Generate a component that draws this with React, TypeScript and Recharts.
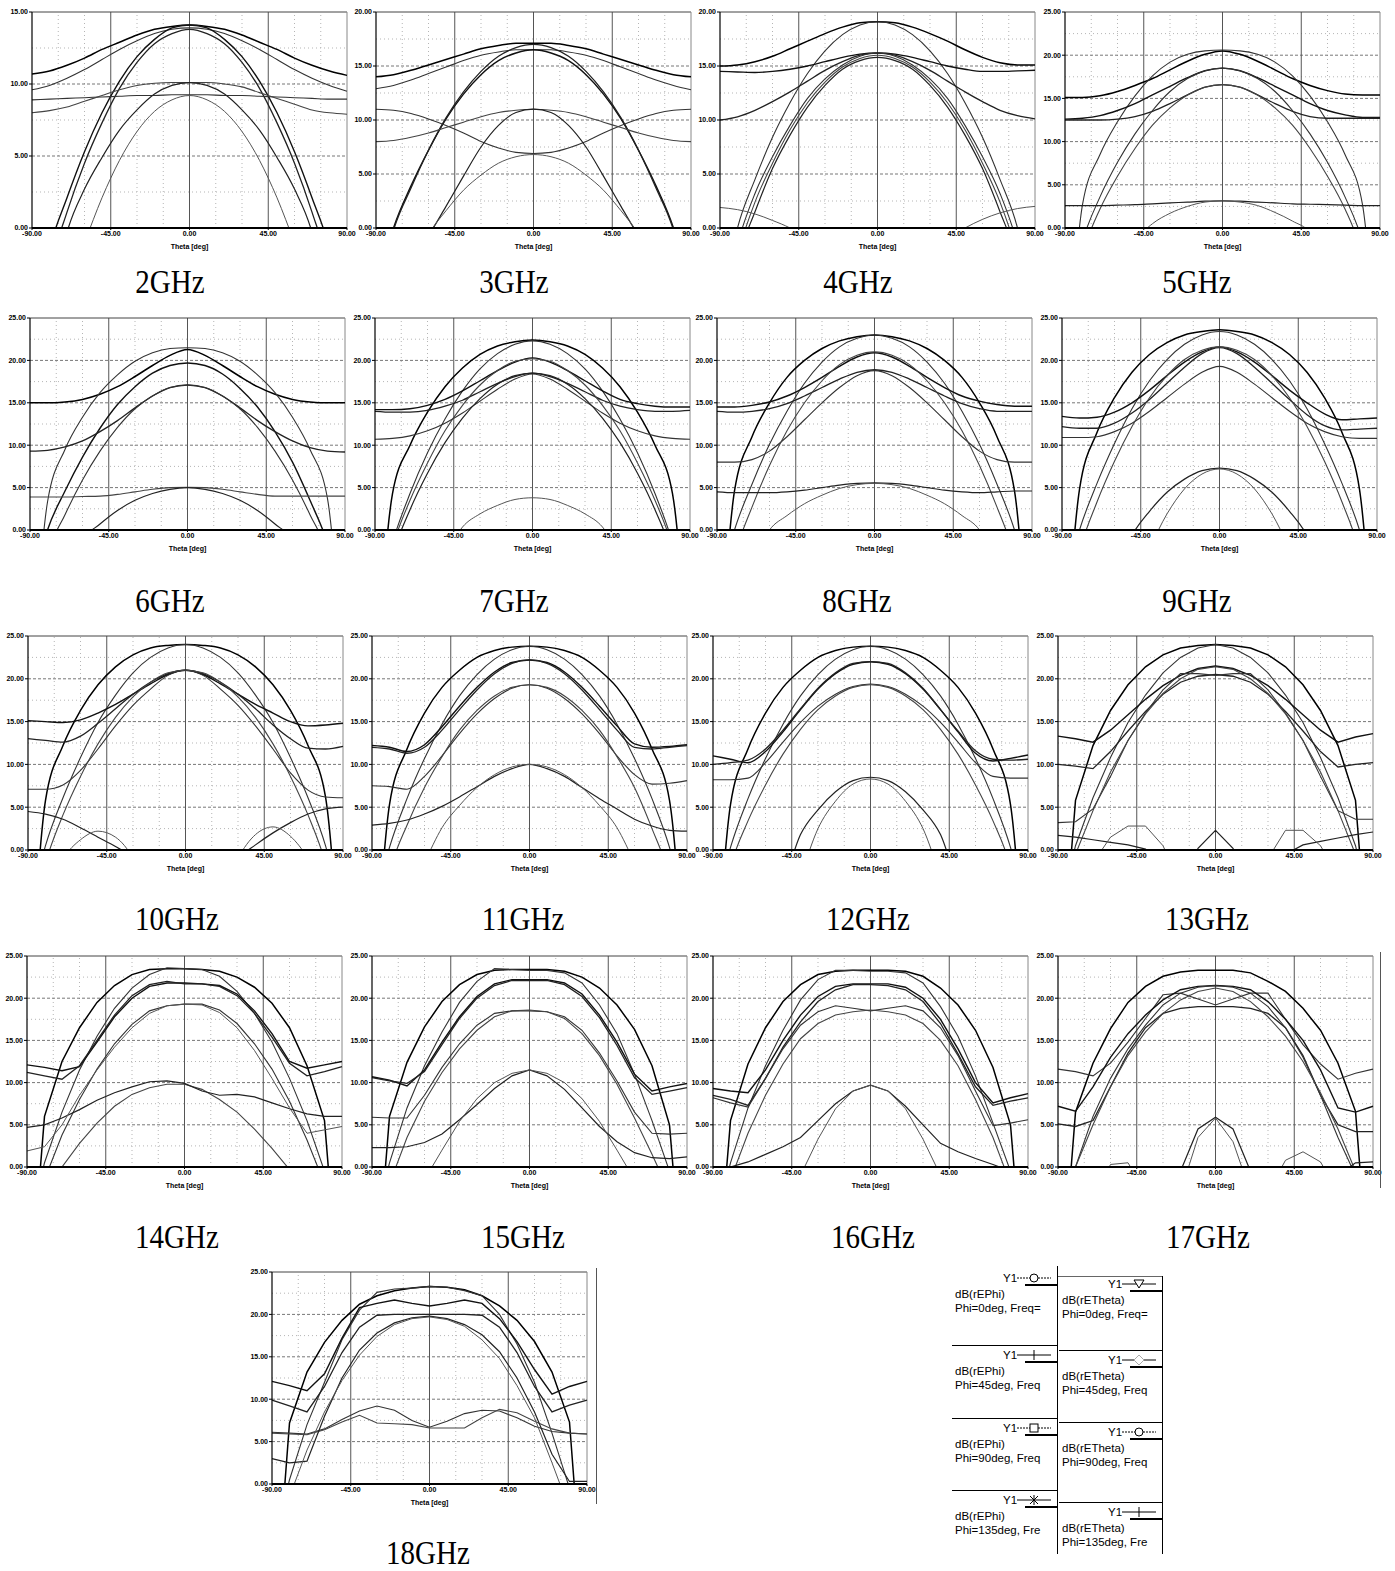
import React from 'react'
import { LineChart, Line, XAxis, YAxis, ReferenceLine, Label } from 'recharts'

// theta samples, deg
const theta = [-90, -80, -70, -60, -50, -40, -30, -20, -10, 0, 10, 20, 30, 40, 50, 60, 70, 80, 90]

const freqLabels = ['2GHz', '3GHz', '4GHz', '5GHz', '6GHz', '7GHz', '8GHz', '9GHz', '10GHz', '11GHz', '12GHz', '13GHz', '14GHz', '15GHz', '16GHz', '17GHz', '18GHz']
const yMax = [15, 20, 20, 25, 25, 25, 25, 25, 25, 25, 25, 25, 25, 25, 25, 25, 25]
const xTicks = [-90, -45, 0, 45, 90]

// gain in dB, 8 curves per frequency (values below 0 are clipped by the axis)
const g2 = [
  [10.7, 10.9, 11.3, 11.8, 12.4, 12.9, 13.4, 13.8, 14.0, 14.1, 14.0, 13.8, 13.4, 12.9, 12.4, 11.8, 11.3, 10.9, 10.6],
  [9.6, 9.9, 10.4, 11.0, 11.7, 12.4, 13.0, 13.5, 13.8, 13.9, 13.8, 13.5, 13.0, 12.4, 11.7, 11.0, 10.4, 9.9, 9.5],
  [-8, -1.5, 2.1, 5.3, 8.0, 10.2, 11.9, 13.1, 13.9, 14.1, 13.9, 13.1, 11.9, 10.2, 8.0, 5.3, 2.1, -1.5, -8],
  [-10, -3, 1.1, 4.5, 7.3, 9.7, 11.5, 12.8, 13.5, 13.8, 13.5, 12.8, 11.5, 9.7, 7.3, 4.5, 1.1, -3, -10],
  [8.9, 8.95, 9.0, 9.05, 9.1, 9.15, 9.2, 9.2, 9.25, 9.25, 9.25, 9.2, 9.2, 9.15, 9.1, 9.05, 9.0, 8.95, 8.95],
  [8.0, 8.15, 8.4, 8.8, 9.2, 9.6, 9.9, 10.05, 10.1, 10.1, 10.1, 10.0, 9.8, 9.4, 9.0, 8.6, 8.2, 8.0, 7.9],
  [-12, -6, -0.3, 2.7, 4.9, 6.8, 8.2, 9.3, 9.9, 10.1, 9.9, 9.3, 8.2, 6.8, 4.9, 2.7, -0.3, -6, -12],
  [-15, -9, -4, -1, 2.1, 4.7, 6.7, 8.1, 8.9, 9.2, 8.9, 8.1, 6.7, 4.7, 2.1, -1, -4, -9, -15],
]
const g3 = [
  [14.0, 14.2, 14.6, 15.1, 15.6, 16.1, 16.6, 16.9, 17.1, 17.1, 17.1, 16.9, 16.6, 16.1, 15.6, 15.1, 14.6, 14.2, 14.0],
  [12.9, 13.2, 13.7, 14.3, 14.9, 15.5, 16.0, 16.3, 16.5, 16.5, 16.5, 16.3, 16.0, 15.5, 14.9, 14.3, 13.7, 13.2, 12.8],
  [-6, 0, 3.9, 7.2, 10.1, 12.4, 14.2, 15.5, 16.2, 16.5, 16.2, 15.5, 14.2, 12.4, 10.1, 7.2, 3.9, 0, -6],
  [-7, -0.2, 3.7, 7.2, 10.2, 12.6, 14.5, 15.9, 16.7, 17.0, 16.7, 15.9, 14.5, 12.6, 10.2, 7.2, 3.7, -0.2, -7],
  [11.0, 10.9, 10.6, 10.1, 9.5, 8.8, 8.0, 7.4, 7.0, 6.9, 7.0, 7.4, 8.0, 8.8, 9.5, 10.1, 10.6, 10.9, 11.0],
  [8.0, 8.1, 8.4, 8.8, 9.3, 9.8, 10.3, 10.7, 10.9, 11.0, 10.9, 10.7, 10.3, 9.8, 9.3, 8.8, 8.4, 8.1, 8.0],
  [-14, -8, -4, -0.8, 2.0, 4.8, 7.5, 9.5, 10.7, 11.0, 10.7, 9.5, 7.5, 4.8, 2.0, -0.8, -4, -8, -14],
  [-10, -6, -3, -0.5, 1.6, 3.5, 4.9, 6.0, 6.6, 6.8, 6.6, 6.0, 4.9, 3.5, 1.6, -0.5, -3, -6, -10],
]
const g4 = [
  [15.0, 15.1, 15.4, 15.9, 16.6, 17.3, 18.0, 18.6, 19.0, 19.1, 19.0, 18.6, 18.0, 17.3, 16.5, 15.8, 15.3, 15.1, 15.1],
  [-8, 0, 4.5, 8.4, 11.6, 14.3, 16.4, 17.9, 18.8, 19.1, 18.8, 17.9, 16.4, 14.3, 11.6, 8.4, 4.5, 0, -8],
  [14.5, 14.45, 14.4, 14.5, 14.7, 15.0, 15.4, 15.8, 16.1, 16.2, 16.1, 15.8, 15.4, 15.0, 14.7, 14.5, 14.5, 14.55, 14.6],
  [10.0, 10.3, 10.9, 11.7, 12.6, 13.6, 14.6, 15.4, 16.0, 16.2, 16.0, 15.4, 14.6, 13.6, 12.6, 11.7, 10.9, 10.4, 10.1],
  [-9, -1.5, 3.2, 6.6, 9.5, 12.0, 13.8, 15.1, 15.9, 16.2, 15.9, 15.1, 13.8, 12.0, 9.5, 6.6, 3.2, -1.5, -9],
  [-10, -2.5, 2.4, 6.0, 9.1, 11.6, 13.5, 14.9, 15.7, 16.0, 15.7, 14.9, 13.5, 11.6, 9.1, 6.0, 2.4, -2.5, -10],
  [-11, -3, 1.5, 5.5, 8.6, 11.2, 13.2, 14.7, 15.5, 15.8, 15.5, 14.7, 13.2, 11.2, 8.6, 5.5, 1.5, -3, -11],
  [1.9, 1.7, 1.3, 0.7, 0.0, -1, -3, -5, -6, -6.5, -6, -5, -3, -1, 0.0, 0.8, 1.4, 1.8, 2.0],
]
const g5 = [
  [15.1, 15.1, 15.3, 15.8, 16.5, 17.3, 18.3, 19.3, 20.1, 20.5, 20.1, 19.3, 18.3, 17.3, 16.5, 15.9, 15.5, 15.4, 15.4],
  [-20, 2.7, 8.5, 12.3, 15.3, 17.6, 19.2, 20.1, 20.5, 20.6, 20.5, 20.1, 19.2, 17.6, 15.3, 12.3, 8.5, 2.7, -20],
  [12.6, 12.7, 13.0, 13.6, 14.4, 15.4, 16.4, 17.4, 18.2, 18.5, 18.2, 17.4, 16.4, 15.4, 14.4, 13.6, 13.1, 12.8, 12.8],
  [12.5, 12.5, 12.5, 12.6, 12.9, 13.5, 14.4, 15.4, 16.3, 16.6, 16.3, 15.4, 14.4, 13.5, 12.9, 12.7, 12.7, 12.7, 12.7],
  [-10, -1.5, 3.6, 7.6, 10.9, 13.6, 15.8, 17.3, 18.2, 18.5, 18.2, 17.3, 15.8, 13.6, 10.9, 7.6, 3.6, -1.5, -10],
  [-12, -3, 2.2, 6.0, 9.2, 11.9, 13.9, 15.4, 16.3, 16.6, 16.3, 15.4, 13.9, 11.9, 9.2, 6.0, 2.2, -3, -12],
  [2.6, 2.6, 2.6, 2.65, 2.7, 2.8, 2.9, 3.0, 3.1, 3.15, 3.1, 3.0, 2.9, 2.8, 2.75, 2.7, 2.65, 2.6, 2.6],
  [-15, -12, -9, -5, -1.5, 0.5, 1.7, 2.5, 3.0, 3.15, 3.0, 2.6, 1.8, 0.8, -0.5, -4, -8, -12, -15],
]
const g6 = [
  [15.0, 15.0, 15.1, 15.4, 16.0, 16.9, 18.1, 19.4, 20.6, 21.3, 20.6, 19.4, 18.1, 16.9, 16.0, 15.4, 15.1, 15.0, 15.0],
  [-20, 3.3, 9.5, 13.3, 16.2, 18.3, 19.9, 20.9, 21.4, 21.5, 21.4, 20.9, 19.9, 18.3, 16.2, 13.3, 9.5, 3.7, -20],
  [-8, 0, 4.6, 8.6, 12.0, 14.8, 16.9, 18.5, 19.4, 19.7, 19.4, 18.4, 16.7, 14.5, 11.6, 8.0, 3.5, -1.5, -9],
  [9.3, 9.4, 9.8, 10.5, 11.6, 12.9, 14.4, 15.8, 16.8, 17.1, 16.8, 15.8, 14.4, 12.9, 11.6, 10.5, 9.7, 9.3, 9.2],
  [-14, -3, 1.8, 5.9, 9.3, 12.1, 14.3, 15.8, 16.8, 17.1, 16.8, 15.8, 14.3, 12.1, 9.3, 5.9, 1.8, -3, -14],
  [3.9, 3.9, 3.9, 3.95, 4.0, 4.2, 4.5, 4.8, 5.0, 5.05, 5.0, 4.8, 4.5, 4.2, 4.0, 4.0, 4.0, 4.0, 4.0],
  [-15, -10, -6, -1.2, 0.7, 2.3, 3.5, 4.3, 4.8, 5.0, 4.8, 4.3, 3.5, 2.3, 0.7, -1.2, -6, -10, -15],
  [-2.5, -2.2, -1.8, -1.5, -1.2, -0.9, -0.6, -0.4, -0.2, -0.1, -0.2, -0.4, -0.6, -0.9, -1.2, -1.5, -1.8, -2.2, -2.5],
]
const g7 = [
  [-20, 4.3, 10.0, 13.9, 16.9, 19.1, 20.7, 21.7, 22.2, 22.4, 22.2, 21.7, 20.7, 19.1, 16.9, 13.9, 10.0, 4.3, -20],
  [-10, -1.5, 4.3, 9.1, 13.1, 16.4, 19.0, 20.8, 21.9, 22.3, 21.9, 20.8, 19.0, 16.4, 13.1, 9.1, 4.3, -1.5, -10],
  [14.2, 14.2, 14.3, 14.7, 15.4, 16.4, 17.6, 18.8, 19.8, 20.3, 19.8, 18.8, 17.6, 16.4, 15.4, 14.9, 14.6, 14.5, 14.5],
  [14.0, 13.9, 13.9, 14.1, 14.6, 15.3, 16.3, 17.3, 18.1, 18.5, 18.1, 17.3, 16.3, 15.3, 14.6, 14.2, 14.0, 14.0, 14.1],
  [10.7, 10.8, 11.1, 11.7, 12.6, 13.8, 15.2, 16.6, 17.8, 18.4, 17.8, 16.6, 15.2, 13.8, 12.6, 11.7, 11.1, 10.8, 10.7],
  [-11, -2, 3.5, 7.9, 11.7, 14.7, 17.1, 18.8, 19.9, 20.2, 19.9, 18.8, 17.1, 14.7, 11.7, 7.9, 3.5, -2, -11],
  [-12, -3, 2.4, 6.7, 10.3, 13.2, 15.5, 17.2, 18.2, 18.5, 18.2, 17.2, 15.5, 13.2, 10.3, 6.7, 2.4, -3, -12],
  [-15, -12, -9, -6, -3, 0.35, 1.9, 2.9, 3.6, 3.8, 3.6, 2.9, 1.9, 0.35, -3, -6, -9, -12, -15],
]
const g8 = [
  [-20, 4.6, 11.0, 15.0, 18.0, 20.0, 21.4, 22.3, 22.8, 23.0, 22.8, 22.3, 21.4, 20.0, 18.0, 15.0, 11.0, 4.6, -20],
  [-8, 0, 5.4, 10.1, 14.0, 17.3, 19.8, 21.6, 22.6, 23.0, 22.6, 21.6, 19.8, 17.3, 14.0, 10.1, 5.4, 0, -8],
  [14.5, 14.5, 14.7, 15.1, 15.8, 16.8, 18.0, 19.3, 20.4, 20.9, 20.4, 19.3, 18.0, 16.8, 15.8, 15.2, 14.8, 14.6, 14.6],
  [14.0, 13.9, 14.0, 14.3, 14.9, 15.8, 16.8, 17.8, 18.6, 18.9, 18.6, 17.8, 16.8, 15.8, 14.9, 14.3, 14.0, 14.0, 14.0],
  [8.0, 8.0, 8.3, 9.3, 11.0, 13.0, 15.0, 16.8, 18.2, 18.8, 18.2, 16.8, 15.0, 13.0, 11.0, 9.3, 8.3, 8.0, 8.0],
  [-12, -3, 2.7, 7.6, 11.7, 15.0, 17.6, 19.5, 20.6, 21.0, 20.6, 19.5, 17.6, 15.0, 11.7, 7.6, 2.7, -3, -12],
  [4.5, 4.4, 4.4, 4.4, 4.5, 4.7, 5.0, 5.3, 5.5, 5.55, 5.5, 5.3, 5.0, 4.7, 4.5, 4.4, 4.5, 4.6, 4.6],
  [-12, -8, -4, 0, 1.7, 3.1, 4.1, 4.9, 5.35, 5.5, 5.35, 4.9, 4.1, 3.1, 1.7, 0, -4, -8, -12],
]
const g9 = [
  [-20, 4.8, 11.5, 15.6, 18.6, 20.7, 22.1, 23.0, 23.4, 23.6, 23.4, 23.0, 22.1, 20.7, 18.6, 15.6, 11.5, 4.8, -20],
  [-8, 0, 5.5, 10.2, 14.3, 17.6, 20.1, 21.9, 23.0, 23.4, 23.0, 21.9, 20.1, 17.6, 14.3, 10.2, 5.5, 0, -8],
  [13.4, 13.2, 13.3, 13.9, 15.0, 16.5, 18.2, 19.8, 21.0, 21.6, 21.0, 19.8, 18.2, 16.5, 15.0, 13.7, 13.0, 13.1, 13.2],
  [12.2, 12.0, 12.0, 12.6, 13.8, 15.4, 17.3, 19.2, 20.8, 21.5, 20.8, 19.2, 17.3, 15.4, 13.6, 12.3, 11.8, 11.9, 12.0],
  [10.9, 10.9, 11.0, 11.6, 12.6, 14.0, 15.6, 17.2, 18.6, 19.3, 18.6, 17.2, 15.6, 14.0, 12.6, 11.6, 11.0, 10.8, 10.8],
  [-12, -2.5, 3.3, 8.1, 12.2, 15.6, 18.2, 20.1, 21.2, 21.6, 21.2, 20.1, 18.2, 15.6, 12.2, 8.1, 3.3, -2.5, -12],
  [-20, -15, -10, -5, -0.6, 2.2, 4.45, 6.0, 7.0, 7.3, 7.0, 6.0, 4.45, 2.2, -0.6, -5, -10, -15, -20],
  [-20, -16, -12, -8, -5, -2, 1.9, 4.85, 6.6, 7.2, 6.6, 4.85, 1.9, -2, -5, -8, -12, -16, -20],
]
const g10 = [
  [-20, 5.8, 12.2, 16.3, 19.3, 21.4, 22.8, 23.6, 23.9, 24.0, 23.9, 23.6, 22.8, 21.4, 19.3, 16.3, 12.2, 6.2, -20],
  [-8, 0.5, 6.1, 10.8, 14.9, 18.1, 20.7, 22.5, 23.6, 24.0, 23.6, 22.5, 20.7, 18.1, 14.9, 10.8, 6.1, 0.5, -8],
  [15.1, 15.0, 14.9, 15.2, 16.0, 17.0, 18.2, 19.4, 20.5, 21.0, 20.5, 19.4, 18.2, 17.0, 16.0, 15.0, 14.5, 14.6, 14.8],
  [13.0, 12.8, 12.6, 13.3, 14.8, 16.5, 18.2, 19.6, 20.6, 21.0, 20.6, 19.6, 18.2, 16.5, 14.6, 13.0, 11.9, 11.8, 12.1],
  [7.1, 7.1, 7.6, 9.3, 11.8, 14.5, 16.9, 18.8, 20.4, 21.0, 20.4, 18.8, 16.9, 14.5, 11.8, 9.0, 7.0, 6.2, 6.1],
  [-10, -1.5, 4.1, 8.6, 12.4, 15.5, 17.9, 19.6, 20.7, 21.0, 20.7, 19.6, 17.9, 15.5, 12.4, 8.6, 4.1, -1.5, -10],
  [4.5, 4.2, 3.6, 2.6, 1.5, 0.4, -1, -4, -8, -10, -8, -4, -1, 0.6, 2.0, 3.2, 4.2, 4.8, 5.0],
  [-10, -5, -1, 1.2, 2.2, 1.5, -1, -6, -12, -15, -12, -6, -1, 1.8, 2.7, 1.6, -1, -5, -10],
]
const g11 = [
  [-20, 5.3, 11.8, 16.0, 19.0, 21.0, 22.5, 23.3, 23.7, 23.8, 23.7, 23.3, 22.5, 21.0, 19.0, 16.0, 11.8, 5.8, -20],
  [-8, 0.3, 6.0, 10.7, 14.7, 18.0, 20.5, 22.3, 23.4, 23.8, 23.4, 22.3, 20.5, 18.0, 14.7, 10.7, 6.0, 0.3, -8],
  [12.2, 12.0, 11.5, 12.3, 14.4, 16.8, 19.0, 20.8, 21.9, 22.2, 21.9, 20.8, 19.0, 16.8, 14.5, 12.4, 12.0, 12.1, 12.3],
  [12.0, 11.8, 11.3, 12.0, 14.0, 16.4, 18.7, 20.6, 21.8, 22.2, 21.8, 20.6, 18.7, 16.4, 14.0, 12.0, 11.8, 12.0, 12.2],
  [7.5, 7.4, 7.1, 8.6, 11.0, 13.6, 15.9, 17.7, 18.9, 19.3, 18.9, 17.7, 15.9, 13.6, 11.0, 8.8, 7.7, 7.8, 8.1],
  [-12, -2.5, 2.9, 7.3, 10.9, 14.0, 16.3, 18.0, 19.0, 19.3, 19.0, 18.0, 16.3, 14.0, 10.9, 7.3, 2.5, -3, -12],
  [2.9, 3.1, 3.5, 4.2, 5.1, 6.2, 7.4, 8.6, 9.5, 10.0, 9.5, 8.6, 7.3, 6.0, 4.8, 3.6, 2.8, 2.3, 2.2],
  [-15, -10, -6, -1.5, 2.6, 5.2, 7.3, 8.8, 9.7, 10.0, 9.7, 8.8, 7.3, 5.2, 2.6, -1.5, -6, -10, -15],
]
const g12 = [
  [-20, 5.3, 11.8, 16.0, 19.0, 21.0, 22.5, 23.3, 23.7, 23.8, 23.7, 23.3, 22.5, 21.0, 19.0, 16.0, 11.8, 5.3, -20],
  [-8, 0.3, 6.0, 10.7, 14.7, 18.0, 20.5, 22.3, 23.4, 23.8, 23.4, 22.3, 20.5, 18.0, 14.7, 10.7, 6.0, 0.3, -8],
  [11.0, 10.6, 10.2, 11.5, 13.8, 16.4, 18.8, 20.6, 21.7, 22.0, 21.7, 20.6, 18.8, 16.4, 13.8, 11.3, 10.4, 10.7, 11.1],
  [10.0, 10.2, 10.5, 11.8, 14.0, 16.5, 18.9, 20.7, 21.8, 22.0, 21.8, 20.7, 18.9, 16.4, 13.9, 11.6, 10.6, 10.5, 10.6],
  [8.2, 8.2, 8.4, 10.2, 12.6, 14.9, 16.8, 18.2, 19.1, 19.4, 19.1, 18.2, 16.8, 14.9, 12.6, 10.2, 8.6, 8.4, 8.4],
  [-12, -2, 3.4, 7.6, 11.2, 14.1, 16.4, 18.0, 19.0, 19.3, 19.0, 18.0, 16.4, 14.1, 11.2, 7.6, 3.4, -2, -12],
  [-20, -16, -12, -8, -4, 1.8, 4.7, 6.8, 8.1, 8.5, 8.1, 6.8, 4.7, 1.8, -4, -8, -12, -16, -20],
  [-20, -18, -15, -12, -8, -3, 2.5, 5.7, 7.7, 8.3, 7.7, 5.7, 2.5, -3, -8, -12, -15, -18, -20],
]
const g13 = [
  [-20, 5.8, 12.2, 16.3, 19.3, 21.4, 22.8, 23.6, 23.9, 24.0, 23.9, 23.6, 22.8, 21.4, 19.3, 16.3, 12.2, 5.8, -20],
  [-8, 0.5, 6.1, 10.8, 14.9, 18.1, 20.7, 22.5, 23.6, 24.0, 23.6, 22.5, 20.7, 18.1, 14.9, 10.8, 6.1, 0.5, -8],
  [13.3, 13.0, 12.6, 14.0, 15.8, 17.6, 19.2, 20.4, 21.2, 21.5, 21.2, 20.4, 19.2, 17.6, 15.8, 14.0, 12.6, 13.2, 13.6],
  [10.0, 9.8, 9.5, 11.5, 13.9, 16.2, 18.2, 19.6, 20.3, 20.5, 20.3, 19.6, 18.2, 16.2, 13.9, 11.5, 9.7, 10.0, 10.2],
  [3.2, 3.3, 4.8, 8.6, 12.8, 16.0, 18.7, 20.6, 20.6, 20.4, 20.6, 20.6, 18.7, 16.0, 12.8, 8.6, 4.6, 3.6, 3.6],
  [-9, -0.5, 4.6, 9.1, 12.8, 15.9, 18.3, 20.0, 21.1, 21.4, 21.1, 20.0, 18.3, 15.9, 12.8, 9.1, 4.6, -0.5, -9],
  [1.7, 1.5, 1.2, 0.9, 0.6, 0.1, -2, -5, 0.2, 2.3, 0.2, -5, -3, -0.5, 0.6, 1.0, 1.4, 1.8, 2.1],
  [-10, -5, -1.5, 1.5, 2.8, 2.8, 0.5, -4, -8, -10, -8, -4, -1, 2.3, 2.3, 0.5, -3, -8, -12],
]
const g14 = [
  [-20, 6.0, 12.5, 16.5, 19.5, 21.5, 22.8, 23.4, 23.5, 23.5, 23.4, 23.2, 22.5, 21.3, 19.4, 16.5, 12.0, 5.5, -20],
  [-8, 0.5, 6.5, 11.5, 15.5, 18.8, 21.2, 22.8, 23.6, 23.5, 23.4, 22.6, 20.8, 18.2, 14.8, 10.5, 5.5, -0.5, -8],
  [12.1, 11.8, 11.4, 11.9, 14.8, 17.8, 20.0, 21.4, 21.8, 21.8, 21.7, 21.5, 20.5, 18.5, 15.8, 12.5, 11.7, 12.1, 12.5],
  [11.2, 10.8, 10.4, 12.0, 15.0, 18.0, 20.3, 21.6, 22.0, 21.7, 21.7, 21.4, 20.3, 18.2, 15.4, 12.3, 10.8, 11.3, 11.9],
  [-10, -1.5, 3.8, 8.0, 11.6, 14.6, 16.9, 18.5, 19.1, 19.3, 19.3, 18.6, 17.0, 14.6, 11.6, 7.8, 3.2, -2, -10],
  [-12, -5, 0, 2.8, 5.2, 7.2, 8.6, 9.4, 9.8, 9.8, 9.2, 8.0, 6.5, 4.5, 2.2, -0.3, -5, -10, -14],
  [4.7, 5.0, 5.8, 6.8, 7.9, 8.8, 9.5, 10.1, 10.2, 9.9, 9.0, 8.5, 8.6, 8.3, 7.6, 6.9, 6.3, 6.0, 6.0],
  [1.9, 2.4, 5.0, 8.5, 11.5, 14.2, 16.5, 18.2, 19.1, 19.3, 19.2, 18.3, 16.5, 13.8, 10.5, 7.0, 4.0, 4.4, 4.8],
]
const g15 = [
  [-20, 6.0, 12.4, 16.6, 19.6, 21.6, 22.8, 23.3, 23.4, 23.4, 23.4, 23.2, 22.5, 21.2, 19.2, 16.3, 12.0, 5.0, -20],
  [-8, 0.5, 7.0, 12.0, 16.0, 19.5, 22.0, 23.5, 23.4, 23.3, 23.3, 23.0, 21.8, 19.2, 15.8, 11.0, 5.5, -0.5, -8],
  [10.7, 10.3, 9.6, 11.5, 14.8, 17.8, 20.2, 21.7, 22.2, 22.2, 22.2, 21.8, 20.5, 18.0, 14.8, 11.0, 9.0, 9.5, 9.9],
  [10.6, 10.2, 9.9, 11.3, 14.5, 17.6, 20.0, 21.5, 22.1, 22.1, 22.1, 21.6, 20.2, 17.7, 14.4, 10.6, 8.6, 9.0, 9.4],
  [5.9, 5.8, 5.8, 8.5, 11.8, 14.6, 16.8, 18.2, 18.5, 18.5, 18.4, 17.8, 16.2, 13.5, 10.2, 6.5, 4.0, 3.9, 4.0],
  [-12, -2, 3.5, 7.8, 11.2, 14.0, 16.2, 17.8, 18.5, 18.6, 18.4, 17.6, 15.8, 13.2, 9.8, 5.8, 1.5, -3, -12],
  [2.3, 2.3, 2.4, 2.9, 3.9, 5.6, 7.4, 9.3, 10.8, 11.5, 10.8, 9.2, 7.0, 4.8, 3.0, 1.7, 1.1, 1.0, 1.2],
  [-15, -10, -6, -1.5, 2.0, 5.4, 8.1, 10.0, 11.1, 11.5, 11.1, 10.0, 8.1, 5.4, 2.0, -1.5, -6, -10, -15],
]
const g16 = [
  [-20, 5.5, 12.2, 16.5, 19.6, 21.6, 22.8, 23.2, 23.3, 23.3, 23.3, 23.2, 22.6, 21.2, 19.2, 16.2, 11.8, 5.0, -20],
  [-8, 0.5, 7.0, 12.0, 16.2, 19.8, 22.2, 23.3, 23.3, 23.2, 23.2, 23.0, 21.8, 19.0, 15.5, 10.8, 5.2, -0.5, -8],
  [9.3, 9.0, 8.8, 11.5, 15.0, 18.0, 20.2, 21.4, 21.7, 21.7, 21.7, 21.3, 20.0, 17.5, 14.0, 10.0, 7.6, 8.2, 8.7],
  [8.5, 8.0, 7.3, 10.5, 14.2, 17.2, 19.6, 21.0, 21.6, 21.6, 21.5, 21.0, 19.6, 17.0, 13.4, 9.5, 7.3, 7.8, 8.2],
  [8.2, 7.6, 7.1, 10.5, 14.0, 16.8, 18.4, 19.1, 18.8, 18.5, 18.8, 19.1, 18.5, 16.5, 13.2, 9.0, 4.9, 5.2, 5.6],
  [-10, -1.5, 4.0, 8.5, 12.2, 15.2, 17.0, 18.0, 18.4, 18.6, 18.4, 18.0, 17.0, 15.0, 12.0, 8.0, 3.5, -2, -10],
  [-3, 0, 0.6, 1.5, 2.4, 3.5, 5.5, 7.5, 9.0, 9.7, 9.0, 7.2, 5.0, 2.8, 1.8, 1.0, 0.3, -0.5, -3],
  [-20, -18, -15, -12, -8, -1, 3.3, 6.9, 9.0, 9.7, 9.0, 6.9, 3.3, -1, -8, -12, -15, -18, -20],
]
const g17 = [
  [-20, 6.5, 12.3, 16.4, 19.5, 21.4, 22.6, 23.1, 23.3, 23.3, 23.3, 23.0, 22.0, 20.8, 18.8, 16.2, 12.3, 6.6, -20],
  [11.6, 11.3, 10.8, 12.3, 14.8, 17.6, 20.4, 20.6, 19.9, 19.2, 19.9, 20.6, 20.6, 17.5, 14.5, 12.2, 10.4, 11.1, 11.6],
  [7.2, 6.6, 9.5, 13.0, 15.8, 18.0, 19.8, 21.0, 21.4, 21.5, 21.4, 21.0, 19.6, 17.5, 15.0, 11.5, 7.0, 6.5, 7.2],
  [5.1, 4.8, 5.5, 9.5, 13.5, 16.5, 18.2, 18.8, 19.0, 19.0, 19.0, 18.8, 18.2, 16.5, 13.2, 8.5, 5.0, 4.2, 4.2],
  [-10, 0, 6.0, 10.5, 14.0, 16.8, 19.2, 20.6, 21.3, 21.5, 21.3, 20.6, 19.0, 16.5, 13.0, 8.5, 3.5, -1, -10],
  [-10, 0, 5.0, 9.5, 13.2, 16.0, 18.2, 19.8, 20.8, 21.2, 20.8, 19.6, 17.8, 15.5, 12.5, 8.8, 4.5, -0.5, -10],
  [-20, -20, -20, -20, -20, -15, -8, -0.5, 4.5, 5.9, 4.5, -0.5, -8, -15, -20, -12, -1, 0.5, 0.6],
  [-20, -12, -4, 0.3, 0.5, -3, -8, -3, 3.5, 5.8, 3.0, -3, -3, 0.8, 1.8, 0.6, -3, -8, -20],
]
const g18 = [
  [-20, 7.2, 13.2, 16.7, 19.3, 21.2, 22.2, 22.8, 23.1, 23.3, 23.2, 22.9, 22.2, 21.0, 19.3, 16.8, 13.2, 7.3, -20],
  [-8, 0.5, 7.0, 12.0, 17.0, 20.5, 22.6, 23.0, 23.1, 23.3, 23.2, 22.8, 22.2, 20.0, 16.5, 12.0, 6.0, -0.5, -8],
  [12.1, 11.6, 11.0, 13.0, 17.2, 20.8, 21.3, 21.7, 21.3, 21.0, 21.3, 21.7, 21.3, 19.5, 16.8, 13.5, 10.6, 11.5, 12.1],
  [9.9, 9.2, 8.5, 11.5, 15.5, 18.5, 19.9, 20.0, 20.0, 20.0, 20.0, 20.0, 19.9, 18.5, 15.5, 11.5, 8.5, 9.3, 9.9],
  [6.1, 6.0, 5.9, 6.5, 7.6, 8.6, 9.2, 8.7, 7.5, 6.7, 7.4, 8.3, 8.7, 8.6, 7.8, 6.8, 6.2, 6.0, 5.9],
  [6.0, 5.9, 5.8, 6.4, 7.3, 8.1, 7.2, 7.1, 7.0, 6.6, 6.6, 6.6, 7.8, 8.8, 8.4, 7.4, 6.5, 6.0, 5.9],
  [3.0, 2.5, 2.7, 8.0, 12.5, 15.8, 17.8, 19.0, 19.6, 19.8, 19.5, 18.8, 17.6, 15.6, 12.5, 8.5, 3.5, 0.3, 0.3],
  [-10, -1.5, 4.0, 8.5, 12.2, 15.2, 17.4, 18.8, 19.5, 19.7, 19.4, 18.6, 17.0, 14.8, 11.6, 7.8, 2.5, -3, -10],
]

const panels = [g2, g3, g4, g5, g6, g7, g8, g9, g10, g11, g12, g13, g14, g15, g16, g17, g18]

// legend text
const legendQty = ['dB(rEPhi)', 'dB(rETheta)']
const legendPhi = ['Phi=0deg, Freq=', 'Phi=45deg, Freq', 'Phi=90deg, Freq', 'Phi=135deg, Fre']
const legendMarks = [
  ['circle', 'plus', 'square', 'star'],
  ['triangle', 'diamond', 'circle', 'plus'],
]

// layout (page px)
const plotLeft = [32, 376, 720, 1065, 30, 375, 717, 1062, 28, 372, 713, 1058, 27, 372, 713, 1058, 272]
const rowTop = [12, 318, 636, 956, 1272]
const rowH = [216, 212, 214, 211, 212]
const PLOT_W = 315
const titleX = [170, 514, 858, 1197, 170, 514, 857, 1197, 177, 523, 868, 1207, 177, 523, 873, 1208, 428]
const titleY = [281, 600, 918, 1237, 1553]
const Y_W = 30
const M_TOP = 6
const M_RIGHT = 16
const X_H = 24

const lineStyle = [
  { stroke: '#000', w: 1.5 },
  { stroke: '#333', w: 1.1 },
  { stroke: '#111', w: 1.4 },
  { stroke: '#222', w: 1.3 },
  { stroke: '#333', w: 1.1 },
  { stroke: '#444', w: 1.1 },
  { stroke: '#222', w: 1.2 },
  { stroke: '#555', w: 1.0 },
]

const SANS = 'Liberation Sans, Arial, sans-serif'
const fmt = (v: number) => v.toFixed(2)
const tickFont = { fontSize: 7, fontWeight: 700, fill: '#000', fontFamily: SANS }

function Panel({ idx }: { idx: number }) {
  const series = panels[idx]
  const ymax = yMax[idx]
  const row = Math.floor(idx / 4)
  const h = rowH[row]
  const rows = theta.map((t, i) => {
    const o: Record<string, number> = { theta: t }
    series.forEach((s, k) => { o['s' + k] = s[i] })
    return o
  })
  const yTicks: number[] = []
  for (let v = 0; v <= ymax; v += 5) yTicks.push(v)
  const yMinor = yTicks.slice(0, -1).map((v) => v + 2.5)
  const xMinor = [-75, -60, -30, -15, 15, 30, 60, 75]
  const smooth = idx < 11

  return (
    <div style={{ position: 'absolute', left: plotLeft[idx] - Y_W, top: rowTop[row] - M_TOP }}>
      <LineChart width={Y_W + PLOT_W + M_RIGHT} height={M_TOP + h + X_H} data={rows}
        margin={{ top: M_TOP, right: M_RIGHT, bottom: 0, left: 0 }}>
        {yMinor.map((v) => <ReferenceLine key={'ym' + v} y={v} stroke="#b5b5b5" strokeDasharray="1 3" />)}
        {xMinor.map((v) => <ReferenceLine key={'xm' + v} x={v} stroke="#b5b5b5" strokeDasharray="1 3" />)}
        {yTicks.slice(1, -1).map((v) => <ReferenceLine key={'yM' + v} y={v} stroke="#777" strokeDasharray="3 2" />)}
        {[-45, 0, 45].map((v) => <ReferenceLine key={'xM' + v} x={v} stroke="#555" />)}
        <ReferenceLine y={ymax} stroke="#444" />
        <ReferenceLine x={90} stroke="#888" />
        <XAxis dataKey="theta" type="number" domain={[-90, 90]} ticks={xTicks} interval={0}
          tickFormatter={fmt} tick={tickFont} tickSize={2} tickMargin={1}
          axisLine={{ stroke: '#000', strokeWidth: 2 }} tickLine={{ stroke: '#000' }} height={X_H}>
          <Label value="Theta [deg]" position="insideBottom" offset={3} fontSize={7} fontWeight={700} fill="#000" fontFamily={SANS} />
        </XAxis>
        <YAxis type="number" domain={[0, ymax]} ticks={yTicks} interval={0} allowDataOverflow
          tickFormatter={fmt} tick={tickFont} tickSize={3} tickMargin={1} width={Y_W}
          axisLine={{ stroke: '#000', strokeWidth: 1.2 }} tickLine={{ stroke: '#000' }} />
        {series.map((_, k) => (
          <Line key={k} dataKey={'s' + k} type={smooth ? 'monotone' : 'linear'} stroke={lineStyle[k].stroke}
            strokeWidth={lineStyle[k].w} dot={false} isAnimationActive={false} />
        ))}
      </LineChart>
    </div>
  )
}

function Marker({ kind }: { kind: string }) {
  return (
    <svg width={34} height={10} style={{ display: 'block' }}>
      <line x1={0} y1={5} x2={34} y2={5} stroke="#000" strokeWidth={1} strokeDasharray={kind === 'circle' || kind === 'square' ? '2 1' : undefined} />
      {kind === 'circle' && <circle cx={17} cy={5} r={4} fill="#fff" stroke="#000" />}
      {kind === 'square' && <rect x={13} y={1} width={8} height={8} fill="#fff" stroke="#000" />}
      {kind === 'plus' && <line x1={17} y1={0} x2={17} y2={10} stroke="#000" />}
      {kind === 'star' && (
        <g stroke="#000">
          <line x1={17} y1={0} x2={17} y2={10} />
          <line x1={13} y1={1} x2={21} y2={9} />
          <line x1={21} y1={1} x2={13} y2={9} />
        </g>
      )}
      {kind === 'triangle' && <polygon points="12,1 22,1 17,9" fill="#fff" stroke="#000" />}
      {kind === 'diamond' && <polygon points="17,0 22,5 17,10 12,5" fill="#fff" stroke="#aaa" />}
    </svg>
  )
}

const legendY1 = [[1278, 1355, 1428, 1500], [1284, 1360, 1432, 1512]]
const legendColX = [955, 1062]
const legendColR = [1055, 1160]

function LegendBox() {
  const txt: React.CSSProperties = { position: 'absolute', fontFamily: SANS, fontSize: 11.5, lineHeight: '14px', whiteSpace: 'nowrap', color: '#000' }
  const items: React.ReactNode[] = []
  legendMarks.forEach((col, c) => {
    col.forEach((kind, e) => {
      const y = legendY1[c][e]
      items.push(
        <div key={`y${c}${e}`} style={{ ...txt, top: y - 7, left: legendColR[c] - 52, display: 'flex', alignItems: 'center' }}>
          <span>Y1</span><Marker kind={kind} />
        </div>,
        <div key={`u${c}${e}`} style={{ position: 'absolute', top: y + 6, left: legendColR[c] - 30, width: 32, height: 2, background: '#000' }} />,
        <div key={`q${c}${e}`} style={{ ...txt, top: y + 9, left: legendColX[c] }}>{legendQty[c]}</div>,
        <div key={`p${c}${e}`} style={{ ...txt, top: y + 23, left: legendColX[c] }}>{legendPhi[e]}</div>,
      )
      if (e > 0) {
        items.push(<div key={`s${c}${e}`} style={{ position: 'absolute', top: y - 10, left: legendColX[c] - 3, width: legendColR[c] - legendColX[c] + 5, height: 1, background: '#000' }} />)
      }
    })
  })
  return (
    <>
      {items}
      <div style={{ position: 'absolute', left: 1057, top: 1266, width: 1, height: 288, background: '#000' }} />
      <div style={{ position: 'absolute', left: 1162, top: 1276, width: 1, height: 278, background: '#000' }} />
      <div style={{ position: 'absolute', left: 1058, top: 1276, width: 104, height: 1, background: '#666' }} />
    </>
  )
}

export default function App() {
  return (
    <div style={{ position: 'absolute', left: 0, top: 0, width: 1395, height: 1571, background: '#fff', overflow: 'hidden' }}>
      {panels.map((_, i) => <Panel key={i} idx={i} />)}
      {freqLabels.map((f, i) => (
        <div key={f} style={{
          position: 'absolute', left: titleX[i], top: titleY[Math.floor(i / 4)],
          transform: 'translate(-50%, -50%) scaleY(1.15)', fontFamily: 'Liberation Serif, Times New Roman, serif',
          fontSize: 29, lineHeight: '24px', color: '#000', whiteSpace: 'nowrap',
        }}>{f}</div>
      ))}
      <div style={{ position: 'absolute', left: 1380, top: 952, width: 1, height: 236, background: '#555' }} />
      <div style={{ position: 'absolute', left: 596, top: 1268, width: 1, height: 236, background: '#555' }} />
      <LegendBox />
    </div>
  )
}
